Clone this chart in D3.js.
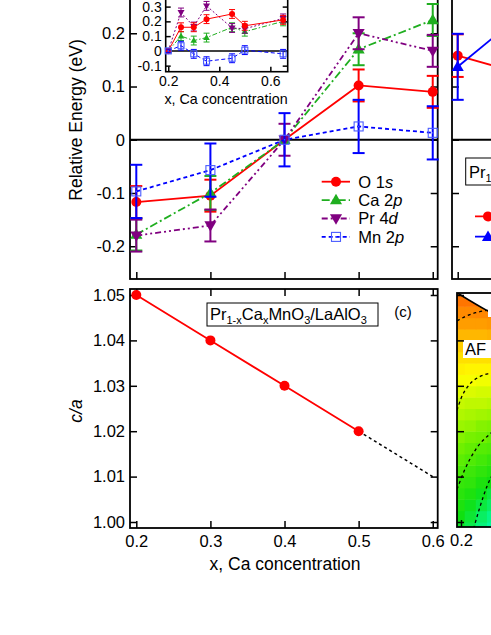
<!DOCTYPE html>
<html><head><meta charset="utf-8">
<script src="https://cdn.jsdelivr.net/npm/d3@7"></script>
<style>
body{margin:0;background:#fff;}
svg{font-family:"Liberation Sans",Arial,Helvetica,sans-serif;display:block;}
</style></head>
<body>
<svg id="c" width="491" height="635"></svg>
<script>
// ---------- DATA ----------
const xConc = [0.2, 0.3, 0.4, 0.5, 0.6];
const xTickLabels = ["0.2", "0.3", "0.4", "0.5", "0.6"];
const energyTicks = [-0.2, -0.1, 0, 0.1, 0.2];
const o1s = [-0.117, -0.105, 0, 0.102, 0.090];
const o1sErr = [0.03, 0.03, 0, 0.03, 0.03];
const ca2p = [-0.178, -0.100, 0, 0.170, 0.225];
const ca2pErr = [0.03, 0.032, 0, 0.03, 0.03];
const pr4d = [-0.180, -0.161, 0, 0.200, 0.167];
const pr4dErr = [0.03, 0.03, 0.03, 0.03, 0.03];
const mn2p = [-0.097, -0.057, 0, 0.025, 0.013];
const mn2pErr = [0.05, 0.05, 0.05, 0.05, 0.05];

const insetX = [0.2, 0.25, 0.3, 0.35, 0.45, 0.5, 0.65];
const insetXTicks = [0.2, 0.4, 0.6];
const insetYTicks = [-0.1, 0, 0.1, 0.2, 0.3];
const inO1s = [0, 0.16, 0.16, 0.215, 0.25, 0.17, 0.21];
const inCa2p = [0, 0.10, 0.07, 0.09, 0.16, 0.13, 0.20];
const inPr4d = [0, 0.26, 0.165, 0.305, 0.155, 0.15, 0.22];
const inMn2p = [0, 0.035, -0.02, -0.07, -0.05, 0.005, -0.02];
const inErr = [0.012, 0.03, 0.03, 0.03, 0.03, 0.03, 0.03];

const caX = [0.2, 0.3, 0.4, 0.5];
const caRatio = [1.05, 1.04, 1.03, 1.02];
const caExtrapX = [0.5, 0.6];
const caExtrap = [1.02, 1.01];
const caTicks = [1.00, 1.01, 1.02, 1.03, 1.04, 1.05];

// partial panel (b) at right edge
const bX = [0.2, 0.3];
const bRed = [0.158, 0.119];
const bRedErr = [0.04, 0.04];
const bBlue = [0.137, 0.252];
const bBlueErr = [0.062, 0.062];

// partial phase diagram (d) at right edge
const phX = [0.19, 0.205, 0.22, 0.235, 0.25];      // cell edges in x
const phY = [0.9975, 1.0000, 1.0025, 1.0050, 1.0075, 1.0100, 1.0125, 1.0150, 1.0175, 1.0200, 1.0225, 1.0250,
             1.0275, 1.0300, 1.0325, 1.0350, 1.0375, 1.0400, 1.0425, 1.0450, 1.0475, 1.0500, 1.0525]; // cell edges in c/a
const phVal = [ // rows bottom->top, columns left->right
  [0.13, 0.10, 0.06, 0.03], [0.15, 0.12, 0.08, 0.05], [0.17, 0.14, 0.11, 0.08], [0.19, 0.17, 0.14, 0.11],
  [0.21, 0.20, 0.17, 0.15], [0.24, 0.22, 0.20, 0.18], [0.27, 0.25, 0.23, 0.21], [0.30, 0.28, 0.26, 0.25],
  [0.33, 0.31, 0.30, 0.28], [0.36, 0.35, 0.33, 0.32], [0.39, 0.38, 0.37, 0.36], [0.42, 0.41, 0.41, 0.40],
  [0.46, 0.45, 0.44, 0.44], [0.49, 0.49, 0.48, 0.48], [0.53, 0.52, 0.52, 0.52], [0.56, 0.56, 0.56, 0.56],
  [0.60, 0.60, 0.60, 0.60], [0.64, 0.64, 0.64, 0.65], [0.69, 0.69, 0.69, 0.70], [0.74, 0.74, 0.75, 0.75],
  [0.80, 0.80, 0.81, 0.81], [0.86, 0.86, 0.87, 0.87]
];
const phSolid = [[0.1946, 1.0505], [0.236, 1.0465], [0.25, 1.0453]];
const phB1 = [[0.1946, 1.0443], [0.205, 1.0452], [0.22, 1.0461], [0.235, 1.0466], [0.25, 1.0468]];
const phB2 = [[0.1946, 1.0246], [0.20, 1.0272], [0.21, 1.0300], [0.225, 1.0320], [0.24, 1.0328], [0.25, 1.0332]];
const phB3 = [[0.1946, 1.0072], [0.205, 1.0115], [0.22, 1.0160], [0.24, 1.0195], [0.25, 1.0207]];
const phB4 = [[0.217, 0.9985], [0.225, 1.0030], [0.235, 1.0078], [0.245, 1.0112]];

// ---------- SETUP ----------
const svg = d3.select("#c");
svg.append("rect").attr("width", 491).attr("height", 635).attr("fill", "#fff");
const FONT = 16.5;
const COL = {red: "#ff0000", green: "#1fae1f", purple: "#800080", blue: "#0000ff", sq: "#4a5cff"};

const xMain = d3.scaleLinear().domain([0.1915, 0.6067]).range([130, 437.7]);
const yMain = d3.scaleLinear().domain([-0.2615, 0.27]).range([279, -4]);
const yC = d3.scaleLinear().domain([0.99868, 1.05132]).range([528, 289]);

function frame(g, x0, y0, x1, y1, w) {
  g.append("rect").attr("x", x0).attr("y", y0).attr("width", x1 - x0).attr("height", y1 - y0)
    .attr("fill", "none").attr("stroke", "#000").attr("stroke-width", w || 1.8);
}
function styleAxis(sel, fs) {
  sel.select(".domain").remove();
  sel.selectAll(".tick line").attr("stroke", "#000").attr("stroke-width", 1.5);
  sel.selectAll(".tick text").attr("fill", "#000").attr("font-size", fs).attr("font-family", null);
}
const fmt1 = d => d === 0 ? "0" : d.toFixed(1);

// ---------- PANEL (a) ----------
const gA = svg.append("g");
gA.append("line").attr("x1", 130).attr("x2", 437.7).attr("y1", yMain(0)).attr("y2", yMain(0))
  .attr("stroke", "#000").attr("stroke-width", 1.8);
gA.append("g").attr("transform", "translate(130,0)")
  .call(d3.axisLeft(yMain).tickValues(energyTicks).tickSize(-7).tickPadding(5).tickFormat(fmt1))
  .call(s => styleAxis(s, FONT));
gA.append("g").attr("transform", "translate(437.7,0)")
  .call(d3.axisRight(yMain).tickValues(energyTicks).tickSize(-7).tickFormat(""))
  .call(s => styleAxis(s, FONT));
gA.append("g").attr("transform", "translate(0,279)")
  .call(d3.axisBottom(xMain).tickValues(xConc).tickSize(-7).tickFormat(""))
  .call(s => styleAxis(s, FONT));
frame(gA, 130, -4, 437.7, 279);

gA.append("text").attr("transform", "translate(82,120) rotate(-90)").attr("text-anchor", "middle")
  .attr("font-size", 17.5).text("Relative Energy (eV)");

function drawSeries(g, xs, ys, errs, xS, yS, opt) {
  const pts = xs.map((x, i) => ({x, y: ys[i], e: errs[i]}));
  const line = d3.line().x(d => xS(d.x)).y(d => yS(d.y));
  g.append("path").datum(pts).attr("d", line).attr("fill", "none").attr("stroke", opt.color)
    .attr("stroke-width", opt.lw).attr("stroke-dasharray", opt.dash || null);
  const eg = g.append("g").attr("stroke", opt.color).attr("stroke-width", opt.ew);
  pts.filter(d => d.e > 0).forEach(d => {
    const cx = xS(d.x), t = yS(d.y + d.e), b = yS(d.y - d.e);
    eg.append("line").attr("x1", cx).attr("x2", cx).attr("y1", t).attr("y2", b);
    eg.append("line").attr("x1", cx - opt.cap).attr("x2", cx + opt.cap).attr("y1", t).attr("y2", t);
    eg.append("line").attr("x1", cx - opt.cap).attr("x2", cx + opt.cap).attr("y1", b).attr("y2", b);
  });
  const mg = g.append("g");
  pts.forEach(d => drawMarker(mg, xS(d.x), yS(d.y), opt));
}
function drawMarker(g, cx, cy, opt) {
  const s = opt.ms;
  if (opt.marker === "circle") {
    g.append("circle").attr("cx", cx).attr("cy", cy).attr("r", s).attr("fill", opt.color);
  } else if (opt.marker === "up" || opt.marker === "down") {
    const h = s * 1.9, w = s * 1.1;
    const dir = opt.marker === "up" ? 1 : -1;
    const p = [[cx, cy - dir * h * 0.6], [cx - w, cy + dir * h * 0.4], [cx + w, cy + dir * h * 0.4]];
    g.append("path").attr("d", "M" + p.map(q => q.join(",")).join("L") + "Z").attr("fill", opt.color);
  } else if (opt.marker === "square") {
    g.append("rect").attr("x", cx - s).attr("y", cy - s).attr("width", 2 * s).attr("height", 2 * s)
      .attr("fill", "none").attr("stroke", COL.sq).attr("stroke-width", 1.1);
    g.append("circle").attr("cx", cx).attr("cy", cy).attr("r", 0.8).attr("fill", COL.sq);
  }
}
const styles = {
  o1s: {color: COL.red, dash: null, marker: "circle", ms: 5},
  ca2p: {color: COL.green, dash: "8,3,2,3", marker: "up", ms: 5.5},
  pr4d: {color: COL.purple, dash: "6,3,2,3,2,3", marker: "down", ms: 5.5},
  mn2p: {color: COL.blue, dash: "4,3", marker: "square", ms: 4.5}
};
const big = {lw: 1.8, ew: 2, cap: 6};
drawSeries(gA, xConc, o1s, o1sErr, xMain, yMain, {...styles.o1s, ...big});
drawSeries(gA, xConc, ca2p, ca2pErr, xMain, yMain, {...styles.ca2p, ...big});
drawSeries(gA, xConc, pr4d, pr4dErr, xMain, yMain, {...styles.pr4d, ...big});
drawSeries(gA, xConc, mn2p, mn2pErr, xMain, yMain, {...styles.mn2p, ...big});

const legend = [
  {k: "o1s", a: "O 1", b: "s"}, {k: "ca2p", a: "Ca 2", b: "p"},
  {k: "pr4d", a: "Pr 4", b: "d"}, {k: "mn2p", a: "Mn 2", b: "p"}
];
legend.forEach((L, i) => {
  const y = 181.7 + i * 18.4, st = styles[L.k];
  gA.append("line").attr("x1", 321.7).attr("x2", 350).attr("y1", y).attr("y2", y)
    .attr("stroke", st.color).attr("stroke-width", 1.8).attr("stroke-dasharray", st.dash);
  drawMarker(gA, 336, y, st);
  const t = gA.append("text").attr("x", 358.3).attr("y", y + 5.8).attr("font-size", FONT);
  t.append("tspan").text(L.a);
  t.append("tspan").attr("font-style", "italic").text(L.b);
});

// ---------- INSET ----------
const xIn = d3.scaleLinear().domain([0.19, 0.668]).range([165.7, 287.7]);
const yIn = d3.scaleLinear().domain([-0.141, 0.365]).range([71.7, -3]);
const gI = svg.append("g");
gI.append("rect").attr("x", 165.7).attr("y", -3).attr("width", 122).attr("height", 74.7).attr("fill", "#fff");
gI.append("line").attr("x1", 165.7).attr("x2", 287.7).attr("y1", yIn(0)).attr("y2", yIn(0))
  .attr("stroke", "#000").attr("stroke-width", 1.5);
gI.append("g").attr("transform", "translate(165.7,0)")
  .call(d3.axisLeft(yIn).tickValues(insetYTicks).tickSize(-5).tickPadding(4).tickFormat(fmt1))
  .call(s => styleAxis(s, 14));
gI.append("g").attr("transform", "translate(287.7,0)")
  .call(d3.axisRight(yIn).tickValues(insetYTicks).tickSize(-5).tickFormat(""))
  .call(s => styleAxis(s, 14));
gI.append("g").attr("transform", "translate(0,71.7)")
  .call(d3.axisBottom(xIn).tickValues(insetXTicks).tickSize(-5).tickPadding(4).tickFormat(d => d.toFixed(1)))
  .call(s => styleAxis(s, 14));
frame(gI, 165.7, -3, 287.7, 71.7, 1.6);
gI.append("text").attr("x", 226).attr("y", 104).attr("text-anchor", "middle").attr("font-size", 14.3)
  .text("x, Ca concentration");
const small = {lw: 1, ew: 1, cap: 3};
drawSeries(gI, insetX, inCa2p, inErr, xIn, yIn, {...styles.ca2p, ...small, ms: 3, dash: "5,2,1.5,2"});
drawSeries(gI, insetX, inPr4d, inErr, xIn, yIn, {...styles.pr4d, ...small, ms: 3.2, dash: "2,2"});
drawSeries(gI, insetX, inO1s, inErr, xIn, yIn, {...styles.o1s, ...small, ms: 3});
drawSeries(gI, insetX, inMn2p, inErr, xIn, yIn, {...styles.mn2p, ...small, ms: 3, dash: "4,2.5"});

// ---------- PANEL (c) ----------
const gC = svg.append("g");
gC.append("g").attr("transform", "translate(130,0)")
  .call(d3.axisLeft(yC).tickValues(caTicks).tickSize(-7).tickPadding(5).tickFormat(d => d.toFixed(2)))
  .call(s => styleAxis(s, FONT));
gC.append("g").attr("transform", "translate(437.7,0)")
  .call(d3.axisRight(yC).tickValues(caTicks).tickSize(-7).tickFormat(""))
  .call(s => styleAxis(s, FONT));
gC.append("g").attr("transform", "translate(0,528)")
  .call(d3.axisBottom(xMain).tickValues(xConc).tickSize(-7).tickPadding(7).tickFormat((d, i) => xTickLabels[i]))
  .call(s => styleAxis(s, FONT));
gC.append("g").attr("transform", "translate(0,289)")
  .call(d3.axisTop(xMain).tickValues(xConc).tickSize(-7).tickFormat(""))
  .call(s => styleAxis(s, FONT));
frame(gC, 130, 289, 437.7, 528);
gC.append("text").attr("x", 285).attr("y", 570).attr("text-anchor", "middle").attr("font-size", 17.5)
  .text("x, Ca concentration");
gC.append("text").attr("transform", "translate(82,411) rotate(-90)").attr("text-anchor", "middle")
  .attr("font-size", 17.5).attr("font-style", "italic").text("c/a");

const lineC = d3.line().x(d => xMain(d[0])).y(d => yC(d[1]));
gC.append("path").datum(caExtrapX.map((x, i) => [x, caExtrap[i]])).attr("d", lineC)
  .attr("fill", "none").attr("stroke", "#000").attr("stroke-width", 1.5).attr("stroke-dasharray", "3,3");
gC.append("path").datum(caX.map((x, i) => [x, caRatio[i]])).attr("d", lineC)
  .attr("fill", "none").attr("stroke", COL.red).attr("stroke-width", 1.8);
caX.forEach((x, i) => gC.append("circle").attr("cx", xMain(x)).attr("cy", yC(caRatio[i])).attr("r", 5).attr("fill", COL.red));

gC.append("rect").attr("x", 207).attr("y", 303).attr("width", 171).attr("height", 23)
  .attr("fill", "#fff").attr("stroke", "#000").attr("stroke-width", 1);
const lt = gC.append("text").attr("x", 210).attr("y", 319.5).attr("font-size", 16.5);
lt.append("tspan").text("Pr");
lt.append("tspan").attr("font-size", 11).attr("dy", 4).text("1-x");
lt.append("tspan").attr("dy", -4).text("Ca");
lt.append("tspan").attr("font-size", 11).attr("dy", 4).text("x");
lt.append("tspan").attr("dy", -4).text("MnO");
lt.append("tspan").attr("font-size", 11).attr("dy", 4).text("3");
lt.append("tspan").attr("dy", -4).text("/LaAlO");
lt.append("tspan").attr("font-size", 11).attr("dy", 4).text("3");
gC.append("text").attr("x", 403).attr("y", 317).attr("text-anchor", "middle").attr("font-size", 15).text("(c)");

// ---------- PARTIAL PANEL (b) ----------
const xB = d3.scaleLinear().domain([0.1923, 0.6067]).range([452, 759]);
const gB = svg.append("g");
gB.append("line").attr("x1", 452).attr("x2", 760).attr("y1", yMain(0)).attr("y2", yMain(0))
  .attr("stroke", "#000").attr("stroke-width", 1.8);
gB.append("g").attr("transform", "translate(452,0)")
  .call(d3.axisLeft(yMain).tickValues(energyTicks).tickSize(-7).tickFormat(""))
  .call(s => styleAxis(s, FONT));
gB.append("g").attr("transform", "translate(0,279)")
  .call(d3.axisBottom(xB).tickValues(xConc).tickSize(-7).tickFormat(""))
  .call(s => styleAxis(s, FONT));
frame(gB, 452, -4, 759, 279);
drawSeries(gB, bX, bRed, bRedErr, xB, yMain, {...styles.o1s, ...big, dash: null});
drawSeries(gB, bX, bBlue, bBlueErr, xB, yMain, {color: COL.blue, marker: "up", ms: 5.5, ...big});
gB.append("rect").attr("x", 465.7).attr("y", 158).attr("width", 200).attr("height", 27)
  .attr("fill", "#fff").attr("stroke", "#000").attr("stroke-width", 1);
const bt = gB.append("text").attr("x", 469).attr("y", 178).attr("font-size", 16.5);
bt.append("tspan").text("Pr");
bt.append("tspan").attr("font-size", 11).attr("dy", 4).text("1");
[[216.4, COL.red, "circle"], [236.7, COL.blue, "up"]].forEach(([y, c, m]) => {
  gB.append("line").attr("x1", 475).attr("x2", 510).attr("y1", y).attr("y2", y).attr("stroke", c).attr("stroke-width", 1.8);
  drawMarker(gB, 488, y, {color: c, marker: m, ms: m === "circle" ? 5 : 5.5});
});

// ---------- PARTIAL PANEL (d) ----------
const xD = d3.scaleLinear().domain([0.1946, 0.6067]).range([457, 762]);
const color = d3.scaleLinear().domain([0, 0.15, 0.3, 0.5, 0.7, 1])
  .range(["#00ffc0", "#10e010", "#70f000", "#ffff00", "#ff9800", "#ff3000"]);
const gD = svg.append("g");
gD.append("clipPath").attr("id", "clipD").append("rect").attr("x", 457).attr("y", 293).attr("width", 310).attr("height", 234);
const cells = gD.append("g").attr("clip-path", "url(#clipD)");
phVal.forEach((row, r) => row.forEach((v, c) => {
  cells.append("rect").attr("x", xD(phX[c])).attr("y", yC(phY[r + 1]))
    .attr("width", xD(phX[c + 1]) - xD(phX[c]) + 0.5).attr("height", yC(phY[r]) - yC(phY[r + 1]) + 0.5)
    .attr("fill", color(v));
}));
const lineD = d3.line().x(d => xD(d[0])).y(d => yC(d[1])).curve(d3.curveMonotoneX);
// region above the solid boundary is blank
cells.append("path").datum(phSolid)
  .attr("d", d3.area().x(d => xD(d[0])).y0(280).y1(d => yC(d[1])))
  .attr("fill", "#fff");
cells.append("path").datum(phSolid).attr("d", lineD).attr("fill", "none").attr("stroke", "#000").attr("stroke-width", 1.6);
[phB1, phB2, phB3, phB4].forEach(b => cells.append("path").datum(b).attr("d", lineD)
  .attr("fill", "none").attr("stroke", "#000").attr("stroke-width", 1.3).attr("stroke-dasharray", "3,3"));
cells.append("rect").attr("x", 463).attr("y", 340).attr("width", 40).attr("height", 18).attr("fill", "#fff");
cells.append("text").attr("x", 465).attr("y", 355).attr("font-size", 16.5).text("AF");
cells.append("rect").attr("x", 488).attr("y", 309).attr("width", 10).attr("height", 8).attr("fill", "#fff");
gD.append("g").attr("transform", "translate(457,0)")
  .call(d3.axisLeft(yC).tickValues(caTicks).tickSize(-7).tickFormat(""))
  .call(s => styleAxis(s, FONT));
gD.append("g").attr("transform", "translate(0,527)")
  .call(d3.axisBottom(xD).tickValues(xConc).tickSize(-7).tickFormat(""))
  .call(s => styleAxis(s, FONT));
gD.append("g").attr("transform", "translate(0,527)")
  .call(d3.axisBottom(xD).tickValues([0.2]).tickSize(0).tickPadding(7).tickFormat(d => d.toFixed(1)))
  .call(s => styleAxis(s, FONT));
frame(gD, 457, 293, 762, 527);
</script>
</body></html>
